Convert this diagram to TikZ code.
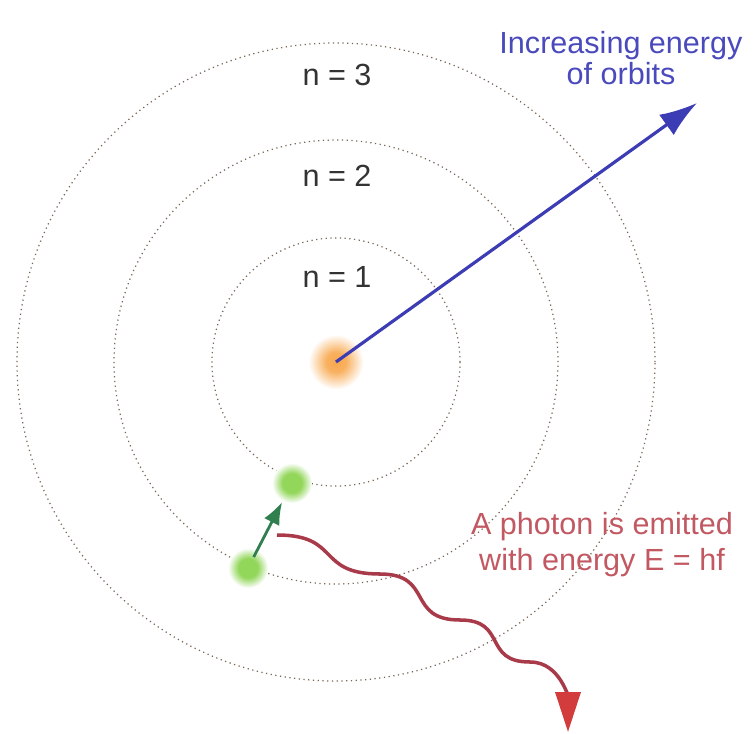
\documentclass[tikz,border=0pt]{standalone}
\usepackage{fontspec}
\setmainfont{Liberation Sans}
\usetikzlibrary{positioning,arrows.meta}
\definecolor{orb}{HTML}{7A6654}
\definecolor{elec}{HTML}{92D65A}
\definecolor{nucl}{HTML}{F8A84E}
\definecolor{engy}{HTML}{3C3CB4}
\definecolor{engytxt}{HTML}{4A4ABC}
\definecolor{phot}{HTML}{A83A4A}
\definecolor{phottxt}{HTML}{C25862}
\definecolor{phothd}{HTML}{D23C3C}
\definecolor{jump}{HTML}{2F7F4F}
\pgfdeclareradialshading{eglow}{\pgfpoint{0bp}{0bp}}{color(0bp)=(elec); color(12bp)=(elec); color(18bp)=(elec!55); color(25bp)=(white); color(50bp)=(white)}
\pgfdeclareradialshading{nglow}{\pgfpoint{0bp}{0bp}}{color(0bp)=(nucl); color(9bp)=(nucl!90); color(17bp)=(nucl!45); color(25bp)=(white); color(50bp)=(white)}
\tikzset{
  orbit/.style={circle, draw=orb, dotted, line width=0.7pt, inner sep=0pt, outer sep=0pt},
  lvl/.style={text=black!80, inner sep=1pt},
  elecball/.style={circle, inner sep=0pt, minimum size=8mm, shading=eglow},
  nucball/.style={circle, inner sep=0pt, minimum size=11mm, shading=nglow},
  wave/.style={draw=phot, line width=2pt, looseness=1.5, -{Triangle[length=8mm, width=5mm, color=phothd, fill=phothd]}}}

\begin{document}
\begin{tikzpicture}[x=0.2mm, y=-0.2mm, font=\fontsize{17.4}{18}\selectfont]
\useasboundingbox (0,0) rectangle (754,734);
% orbits
\node[orbit, minimum size=127.6mm] (o3) at (336,362) {};
\node[orbit, minimum size=88.8mm] (o2) at (336,362) {};
\node[orbit, minimum size=49.6mm] (o1) at (336,362) {};
\node[lvl] (l3) at (337,75) {n = 3};
\node[lvl] (l2) at (337,176) {n = 2};
\node[lvl] (l1) at (337,277) {n = 1};
% nucleus and electrons
\node[nucball] (nuc) at (336,362) {};
\node[elecball] (e1) at (292,483) {};
\node[elecball] (e2) at (248,568) {};
% photon
\coordinate (ph) at (277,535);
\coordinate (w1) at (380,574);
\coordinate (w2) at (460,620);
\coordinate (w3) at (530,662);
\coordinate (phend) at (568,732);
\draw[wave] (ph) to[out=0, in=180] (w1) to[out=0, in=180] (w2)
  to[out=0, in=180] (w3) to[out=0, in=90, looseness=1] (phend);
\node[text=phottxt, align=center, font=\fontsize{17.4}{20.5}\selectfont] (ptxt) at (602,545) {A photon is emitted\\with energy E = hf};
% energy arrow
\coordinate (etip) at (697,103);
\draw[engy, line width=1.8pt, -{Latex[length=7.5mm, width=5mm]}] (nuc.center) -- (etip);
\node[text=engytxt, align=center] (etxt) at (621,58) {Increasing energy\\of orbits};
% jump
\draw[jump, line width=1.6pt, -{Latex[length=4.5mm, width=3.4mm]}, shorten <=-1.6mm, shorten >=0.2mm] (e2) -- (e1);
\end{tikzpicture}
\end{document}
